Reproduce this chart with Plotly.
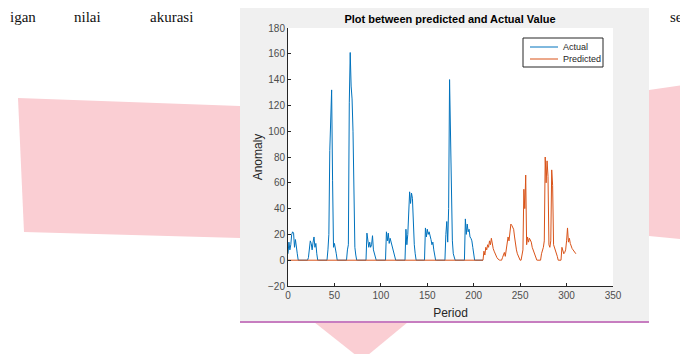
import plotly.graph_objects as go

# ---- data ----
actual_values = [
    5, 14, 8, 12, 20, 22, 21, 10, 16, 12,
    5, 0, 0, 0, 0, 0, 0, 0, 0, 0,
    0, 0, 2, 10, 15, 13, 8, 14, 18, 10,
    13, 5, 0, 0, 0, 0, 0, 0, 0, 0,
    0, 0, 0, 8, 20, 85, 122, 132, 62, 10,
    13, 10, 5, 0, 0, 0, 0, 0, 0, 0,
    0, 0, 0, 0, 8, 12, 122, 161, 135, 125,
    100, 33, 10, 4, 0, 0, 0, 0, 0, 0,
    0, 0, 0, 0, 0, 21, 12, 10, 14, 10,
    12, 19, 8, 5, 3, 0, 0, 0, 0, 0,
    0, 0, 0, 0, 0, 0, 22, 15, 21, 13,
    17, 14, 12, 8, 5, 2, 0, 0, 0, 0,
    0, 0, 0, 0, 0, 0, 0, 24, 12, 20,
    38, 53, 44, 52, 48, 28, 12, 5, 0, 0,
    0, 0, 0, 0, 0, 0, 0, 0, 25, 18,
    24, 20, 22, 17, 16, 12, 14, 8, 4, 0,
    0, 0, 0, 0, 0, 0, 0, 0, 0, 0,
    20, 30, 14, 40, 140, 103, 40, 15, 5, 2,
    0, 0, 0, 0, 0, 0, 0, 0, 0, 0,
    0, 32, 20, 28, 22, 24, 18, 17, 15, 10,
    5, 0, 0, 0, 0, 0, 0, 0, 0, 0, 0,
]
actual_period = list(range(0, len(actual_values)))

predicted_values = [
    0,
    0, 7, 4, 10, 8, 12, 10, 15, 12, 17,
    12, 9, 7, 5, 4, 2, 1, 0, 0, 0,
    0, 2, 5, 6, 3, 8, 12, 18, 15, 22,
    28, 27, 26, 24, 18, 12, 8, 5, 3, 1,
    0, 0, 5, 8, 55, 40, 66, 12, 18, 14,
    17, 15, 14, 10, 8, 6, 4, 2, 0, 0,
    0, 0, 0, 5, 7, 10, 15, 80, 60, 77,
    65, 12, 10, 15, 70, 58, 12, 10, 8, 5,
    3, 0, 0, 0, 0, 10, 8, 5, 6, 8,
    15, 25, 14, 17, 13, 10, 9, 8, 7, 6, 5,
]
predicted_period = [0] + list(range(210, 311))

x_ticks = [0, 50, 100, 150, 200, 250, 300, 350]
y_ticks = [-20, 0, 20, 40, 60, 80, 100, 120, 140, 160, 180]

title_text = "Plot between predicted and Actual Value"
x_label = "Period"
y_label = "Anomaly"
series_names = ["Actual", "Predicted"]
series_colors = ["#0072BD", "#D95319"]

# ---- layout geometry (page pixels; the page body has an 8px margin) ----
OFF = 8
W, H = 680, 346
ML, MR, MT, MB = 280, 75, 20, 68
PW = W - ML - MR
PH = H - MT - MB


def px(X):
    return (X - OFF - ML) / PW


def py(Y):
    return (H - MB - (Y - OFF)) / PH


fig = go.Figure()
for name, xs, ys, col in [(series_names[0], actual_period, actual_values, series_colors[0]),
                          (series_names[1], predicted_period, predicted_values, series_colors[1])]:
    fig.add_trace(go.Scatter(x=xs, y=ys, mode="lines", name=name,
                             line=dict(color=col, width=1)))

pink = "rgb(250,206,211)"
shapes = [
    # page decoration (pink banner shapes)
    dict(type="path", xref="paper", yref="paper", layer="below",
         path="M %f %f L %f %f L %f %f L %f %f Z" % (
             px(18), py(98), px(240), py(106), px(240), py(238), px(24), py(232)),
         fillcolor=pink, line=dict(width=0)),
    dict(type="path", xref="paper", yref="paper", layer="below",
         path="M %f %f L %f %f L %f %f L %f %f Z" % (
             px(649), py(90), px(690), py(84), px(690), py(240), px(649), py(236)),
         fillcolor=pink, line=dict(width=0)),
    dict(type="path", xref="paper", yref="paper", layer="below",
         path="M %f %f L %f %f L %f %f Z" % (
             px(314), py(322), px(408), py(322), px(362), py(360)),
         fillcolor=pink, line=dict(width=0)),
    # MATLAB figure window background
    dict(type="rect", xref="paper", yref="paper", layer="below",
         x0=px(240), x1=px(649), y0=py(321), y1=py(8),
         fillcolor="#F0F0F0", line=dict(width=0)),
    # axes area
    dict(type="rect", xref="paper", yref="paper", layer="below",
         x0=0, x1=1, y0=0, y1=1,
         fillcolor="white", line=dict(width=0)),
    # purple rule under the figure
    dict(type="line", xref="paper", yref="paper",
         x0=px(240), x1=px(649), y0=py(322), y1=py(322),
         line=dict(color="#C77DC0", width=2)),
    # legend box
    dict(type="rect", xref="paper", yref="paper",
         x0=px(523), x1=px(603), y0=py(67), y1=py(38),
         fillcolor="white", line=dict(color="#262626", width=1)),
]
# legend line samples
for i, col in enumerate(series_colors):
    yy = 47 + 12 * i
    shapes.append(dict(type="line", xref="paper", yref="paper",
                       x0=px(530), x1=px(558), y0=py(yy), y1=py(yy),
                       line=dict(color=col, width=1)))

serif = dict(family="Liberation Serif", size=15, color="#111111")
annotations = [
    dict(text="igan", xref="paper", yref="paper", x=px(8), y=py(7),
         xanchor="left", yanchor="top", showarrow=False, font=serif),
    dict(text="nilai", xref="paper", yref="paper", x=px(72), y=py(7),
         xanchor="left", yanchor="top", showarrow=False, font=serif),
    dict(text="akurasi", xref="paper", yref="paper", x=px(148), y=py(7),
         xanchor="left", yanchor="top", showarrow=False, font=serif),
    dict(text="se", xref="paper", yref="paper", x=px(668), y=py(7),
         xanchor="left", yanchor="top", showarrow=False, font=serif),
]
for i, name in enumerate(series_names):
    annotations.append(dict(text=name, xref="paper", yref="paper",
                            x=px(561), y=py(47 + 12 * i), xanchor="left", yanchor="middle",
                            showarrow=False, font=dict(size=9, color="#262626")))

fig.update_layout(
    width=W, height=H,
    margin=dict(l=ML, r=MR, t=MT, b=MB, pad=0),
    paper_bgcolor="white",
    plot_bgcolor="white",
    font=dict(family="Liberation Sans, Arial, sans-serif", color="#262626"),
    title=dict(text="<b>" + title_text + "</b>", x=px(450), xanchor="center",
               y=1 - (19 - OFF) / H, yanchor="middle", xref="paper",
               font=dict(size=11, color="#000000")),
    showlegend=False,
    shapes=shapes,
    annotations=annotations,
)

fig.update_xaxes(range=[0, 350], tickvals=x_ticks, showgrid=False, zeroline=False,
                 showline=True, linecolor="#262626", linewidth=1,
                 ticks="inside", ticklen=3, tickcolor="#262626",
                 tickfont=dict(size=10, color="#4D4D4D"),
                 title=dict(text=x_label, font=dict(size=12, color="#262626"), standoff=8))
fig.update_yaxes(range=[-20, 180], tickvals=y_ticks, showgrid=False, zeroline=False,
                 showline=True, linecolor="#262626", linewidth=1,
                 ticks="inside", ticklen=3, tickcolor="#262626",
                 tickfont=dict(size=10, color="#4D4D4D"),
                 title=dict(text=y_label, font=dict(size=12, color="#262626"), standoff=2))

fig.write_html("out.html")
